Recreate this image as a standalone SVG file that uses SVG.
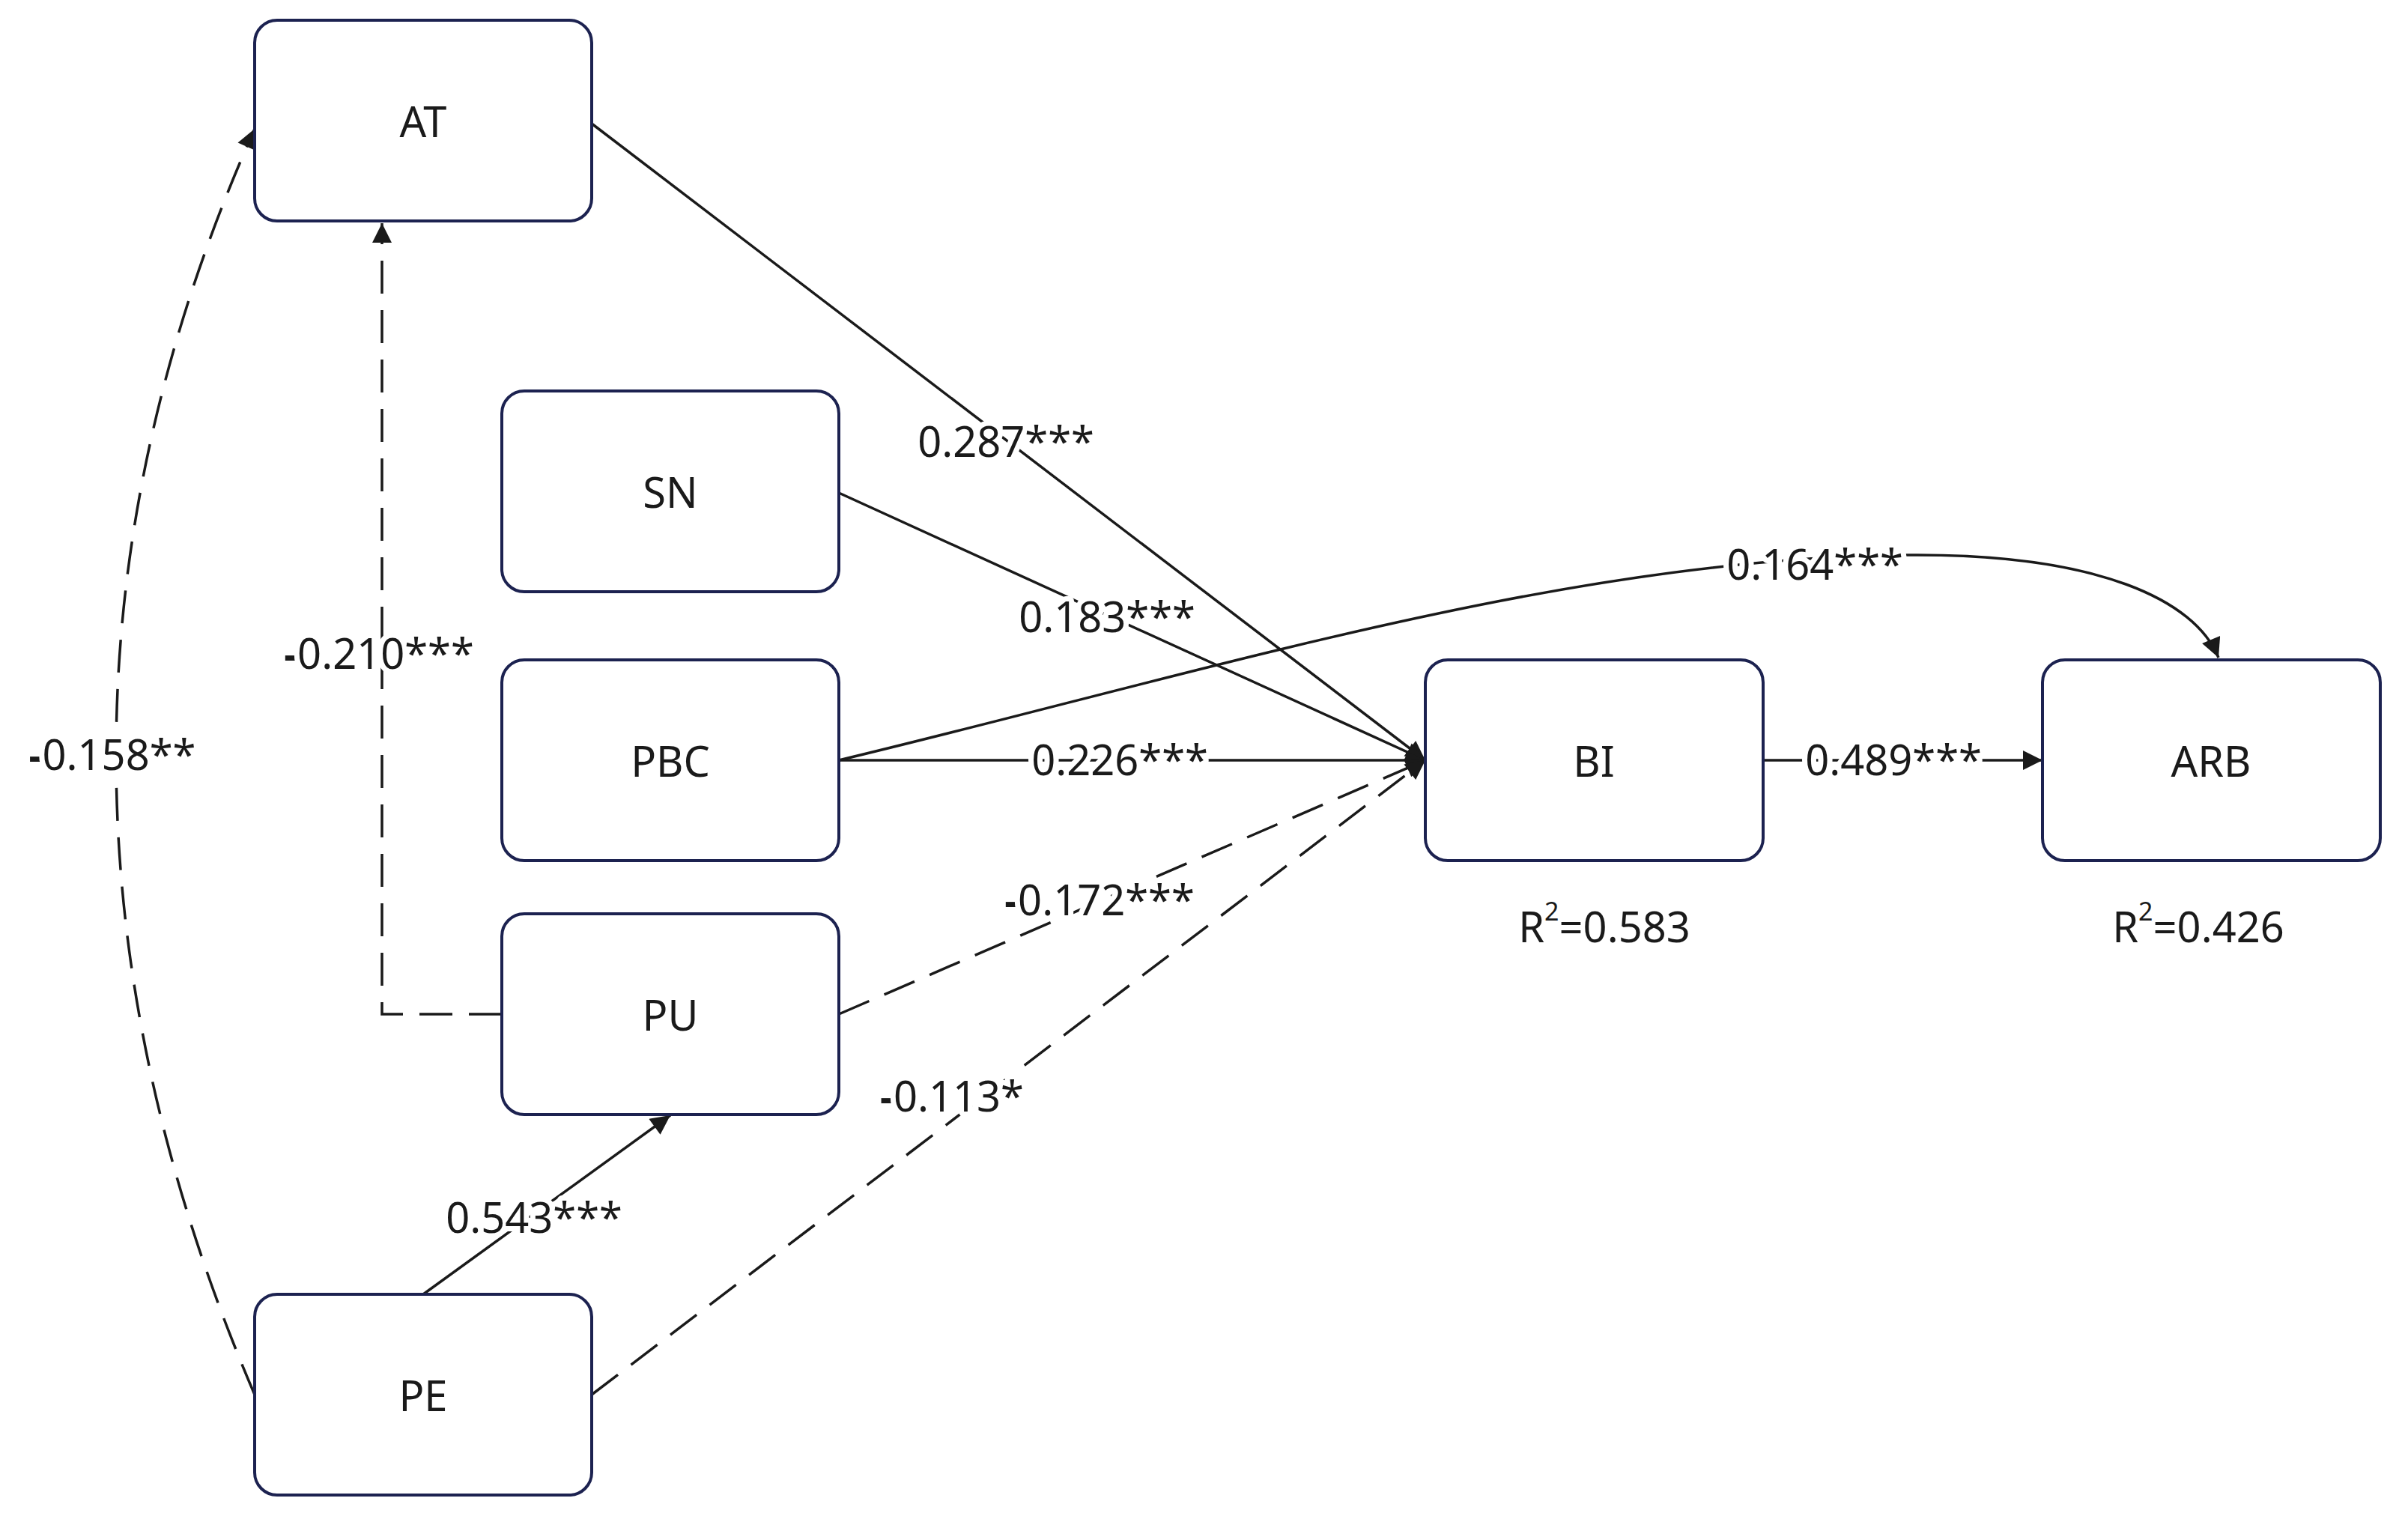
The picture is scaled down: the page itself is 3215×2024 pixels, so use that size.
<svg xmlns="http://www.w3.org/2000/svg" width="3215" height="2024" viewBox="0 0 3215 2024">
<style>
.n rect{fill:#fff;stroke:#1c2250;stroke-width:4}
.n text,.l{font-family:"Noto Sans","Open Sans",sans-serif;font-size:56px;fill:#1a1a1a;text-anchor:middle;dominant-baseline:central}
.c path{fill:none;stroke:#1a1a1a;stroke-width:3.5}
.d{stroke-dasharray:44 22}
.l{paint-order:stroke;stroke:#fff;stroke-width:14px;stroke-linejoin:round}
.b{font-weight:bold}
</style>
<defs>
<marker id="a" viewBox="0 0 10 10" refX="10" refY="5" markerWidth="28" markerHeight="26" markerUnits="userSpaceOnUse" orient="auto"><path d="M0,0L10,5L0,10z" fill="#1a1a1a"/></marker>
</defs>
<g class="c">
<path d="M790,165L1903,1015" marker-end="url(#a)"/>
<path d="M1120,658L1903,1015" marker-end="url(#a)"/>
<path d="M1120,1015L1903,1015" marker-end="url(#a)"/>
<path d="M1120,1015C1600,900 2100,741 2560,741C2800,741 2930,800 2962,878" marker-end="url(#a)"/>
<path class="d" d="M1120,1354L1903,1015" marker-end="url(#a)"/>
<path class="d" d="M790,1862L1903,1015" marker-end="url(#a)"/>
<path d="M565,1728L895,1489" marker-end="url(#a)"/>
<path class="d" d="M670,1354L510,1354L510,298" marker-end="url(#a)"/>
<path class="d" d="M340,1862Q-30,1000 340,172" marker-end="url(#a)"/>
<path d="M2354,1015L2727,1015" marker-end="url(#a)"/>
<text class="l" x="1343" y="588">0.287***</text>
<text class="l" x="1478" y="822">0.183***</text>
<text class="l" x="1495" y="1013">0.226***</text>
<text class="l" x="2423" y="752">0.164***</text>
<text class="l" x="1468" y="1200"><tspan class="b">-</tspan>0.172***</text>
<text class="l" x="1271" y="1462"><tspan class="b">-</tspan>0.113*</text>
<text class="l" x="713" y="1624">0.543***</text>
<text class="l" x="506" y="871"><tspan class="b">-</tspan>0.210***</text>
<text class="l" x="150" y="1006"><tspan class="b">-</tspan>0.158**</text>
<text class="l" x="2528" y="1013">0.489***</text>
</g>
<g id="AT" class="n"><rect x="340" y="27" width="450" height="268" rx="30"/><text x="565" y="161">AT</text></g>
<g id="SN" class="n"><rect x="670" y="522" width="450" height="268" rx="30"/><text x="895" y="656">SN</text></g>
<g id="PBC" class="n"><rect x="670" y="881" width="450" height="268" rx="30"/><text x="895" y="1015">PBC</text></g>
<g id="PU" class="n"><rect x="670" y="1220" width="450" height="268" rx="30"/><text x="895" y="1354">PU</text></g>
<g id="PE" class="n"><rect x="340" y="1728" width="450" height="268" rx="30"/><text x="565" y="1862">PE</text></g>
<g id="BI" class="n"><rect x="1903" y="881" width="451" height="268" rx="30"/><text x="2128" y="1015">BI</text><text x="2142" y="1236">R<tspan dy="-20" font-size="34">2</tspan><tspan dy="20">=0.583</tspan></text></g>
<g id="ARB" class="n"><rect x="2727" y="881" width="451" height="268" rx="30"/><text x="2952" y="1015">ARB</text><text x="2935" y="1236">R<tspan dy="-20" font-size="34">2</tspan><tspan dy="20">=0.426</tspan></text></g>
</svg>
